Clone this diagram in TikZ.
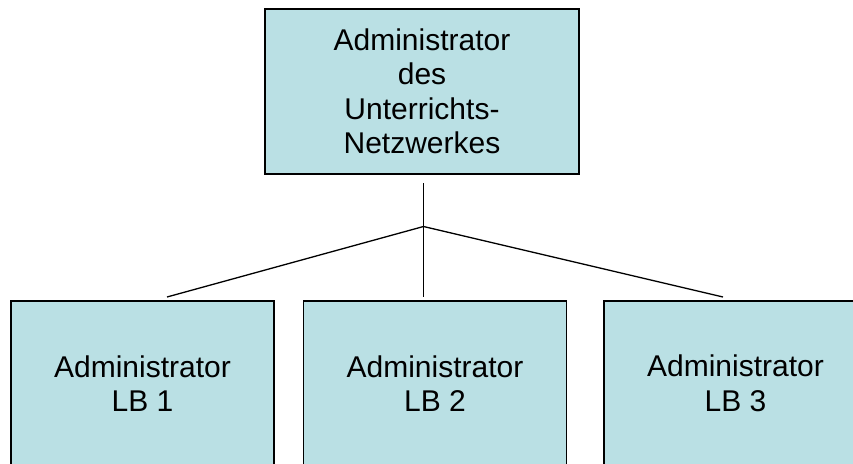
\documentclass[tikz,border=0pt]{standalone}
\usepackage{fontspec}
\setmainfont{Liberation Sans}
\usepackage{tikz}
\usetikzlibrary{arrows,positioning}
\definecolor{boxfill}{RGB}{186,224,228}
\tikzstyle{admin}=[draw, line width=1.5pt, fill=boxfill, align=center, inner sep=0pt]
\tikzstyle{lb}=[admin, minimum width=263pt, minimum height=165pt]
\begin{document}
\begin{tikzpicture}[x=1pt,y=1pt,font=\fontsize{30}{34.5}\selectfont,line width=1.3pt]
        \useasboundingbox (0,0) rectangle (853,-463);
        \fill[white] (0,0) rectangle (853,-463);
        \node [admin,minimum width=314pt,minimum height=165pt] (a) at (422,-91.5) {Administrator\\des\\Unterrichts-\\Netzwerkes};
        \node [lb] (b) at (142.5,-383.5) {Administrator\\LB 1};
        \node [lb] (c) [right=28pt of b] {Administrator\\LB 2};
        \node [lb] (d) [right=36pt of c] {Administrator\\LB 3};
        \coordinate (hub) at (423.5,-226.5);
        \coordinate (t) at (423.5,-183);
        \coordinate (e1) at (167,-297);
        \coordinate (e2) at (423.5,-297);
        \coordinate (e3) at (723,-297);
        \path[draw]
        (t) edge (hub)
        (hub) edge (e1)
        (hub) edge (e2)
        (hub) edge (e3);
    \end{tikzpicture}
\end{document}
